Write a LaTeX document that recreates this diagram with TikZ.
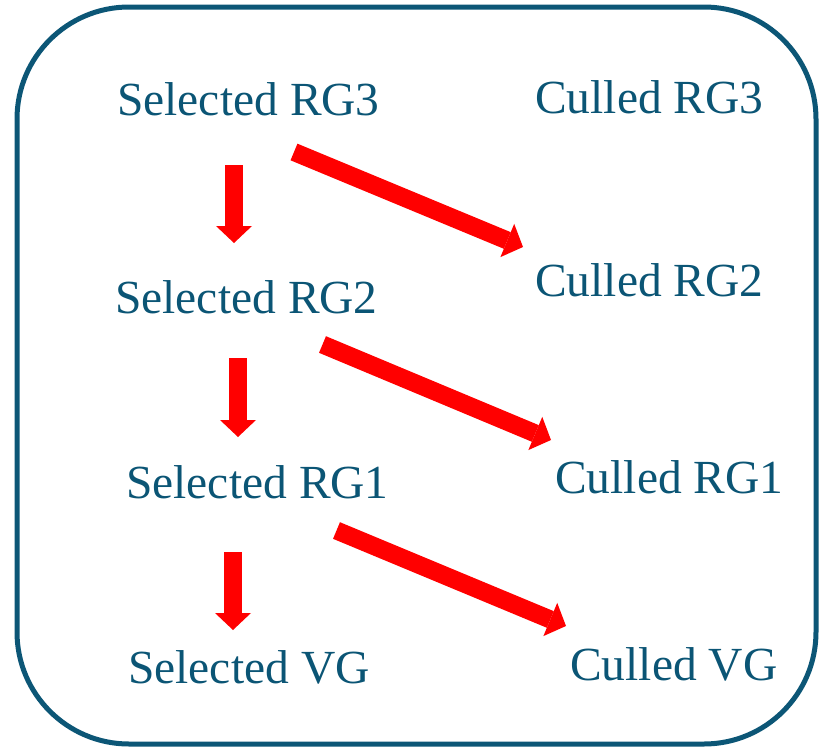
\documentclass[tikz,border=0pt]{standalone}
\usepackage{fontspec}
\setmainfont{Liberation Serif}
\usetikzlibrary{arrows.meta}
\definecolor{frameblue}{RGB}{12,86,118}
\definecolor{labelblue}{RGB}{11,85,117}
\definecolor{flowred}{RGB}{255,0,0}
\begin{document}
\begin{tikzpicture}[x=1pt,y=1pt,
  label/.style={anchor=base west,inner sep=0pt,text=labelblue,
    font=\fontsize{47.5}{57}\selectfont},
  flow/.style={draw=flowred,line width=18pt,line cap=butt,
    -{Triangle[length=17pt,width=36pt,line width=0pt]},flowred}]
\useasboundingbox (0,0) rectangle (819,-747);
% outer frame
\draw[frameblue,line width=5pt,rounded corners=112pt] (17,-7) rectangle (816,-744);
% selected groups (left column)
\node[label] (s3) at (117,-115) {Selected RG3};
\node[label] (s2) at (115,-313) {Selected RG2};
\node[label] (s1) at (126,-498) {Selected RG1};
\node[label] (sv) at (128,-683) {Selected VG};
% culled groups (right column)
\node[label] (c3) at (535,-113) {Culled RG3};
\node[label] (c2) at (535,-296) {Culled RG2};
\node[label] (c1) at (555,-493) {Culled RG1};
\node[label] (cv) at (570,-680) {Culled VG};
% refinement steps
\draw[flow] ([shift={(117,-50)}]s3.base west) -- ([shift={(119,70)}]s2.base west);
\draw[flow] ([shift={(123,-45)}]s2.base west) -- ([shift={(112,61)}]s1.base west);
\draw[flow] ([shift={(107,-54)}]s1.base west) -- ([shift={(105,53)}]sv.base west);
% culling steps
\draw[flow] ([shift={(177,-37)}]s3.base west) -- ([shift={(-12,49)}]c2.base west);
\draw[flow] ([shift={(207.5,-31.5)}]s2.base west) -- ([shift={(-4,53)}]c1.base west);
\draw[flow] ([shift={(210.5,-32.5)}]s1.base west) -- ([shift={(-4,54)}]cv.base west);
\end{tikzpicture}
\end{document}
